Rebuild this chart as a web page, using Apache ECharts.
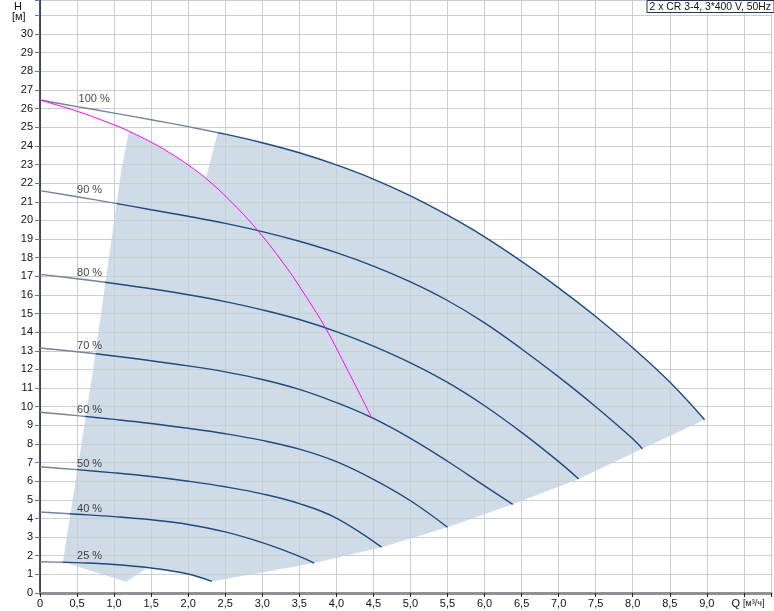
<!DOCTYPE html>
<html><head><meta charset="utf-8">
<script src="https://cdn.jsdelivr.net/npm/echarts@6/dist/echarts.min.js"></script>
<style>html,body{margin:0;padding:0;background:#fff}#c{width:774px;height:611px}</style>
</head><body><div id="c"></div>
<script>
// ---- data ----
const titleText = '2 x CR 3-4, 3*400 V, 50Hz';
const speedLabels = ['100 %', '90 %', '80 %', '70 %', '60 %', '50 %', '40 %', '25 %'];
const labelQ = [0.52, 0.5, 0.5, 0.5, 0.5, 0.5, 0.5, 0.5];
const labelH = [26.5, 21.62, 17.19, 13.27, 9.82, 6.92, 4.5, 1.99];

const c100 = [[0,26.46],[0.5,26.11],[1.0,25.76],[1.5,25.4],[2.0,25.03],[2.5,24.63],[3.0,24.17],[3.5,23.63],[4.0,22.98],[4.5,22.22],[5.0,21.32],[5.5,20.28],[6.0,19.12],[6.5,17.8],[7.0,16.38],[7.5,14.84],[8.0,13.16],[8.5,11.32],[8.97,9.3]];
const c90 = [[0,21.6],[0.5,21.27],[1.0,20.93],[1.5,20.57],[2.0,20.22],[2.5,19.84],[3.0,19.4],[3.5,18.88],[4.0,18.27],[4.5,17.55],[5.0,16.7],[5.5,15.7],[6.0,14.5],[6.5,13.1],[7.0,11.6],[7.5,10.0],[8.0,8.28],[8.13,7.74]];
const c80 = [[0,17.1],[0.5,16.87],[1.0,16.61],[1.5,16.33],[2.0,16.01],[2.5,15.64],[3.0,15.2],[3.5,14.68],[4.0,14.03],[4.5,13.25],[5.0,12.35],[5.5,11.3],[6.0,10.05],[6.5,8.62],[7.0,7.05],[7.27,6.12]];
const c70 = [[0,13.15],[0.5,12.95],[1.0,12.72],[1.5,12.47],[2.0,12.19],[2.5,11.87],[3.0,11.46],[3.5,10.93],[4.0,10.22],[4.5,9.37],[5.0,8.3],[5.5,7.07],[6.0,5.75],[6.38,4.76]];
const c60 = [[0,9.7],[0.5,9.52],[1.0,9.32],[1.5,9.1],[2.0,8.84],[2.5,8.55],[3.0,8.19],[3.5,7.72],[4.0,7.05],[4.5,6.1],[5.0,4.95],[5.5,3.53]];
const c50 = [[0,6.78],[0.5,6.62],[1.0,6.45],[1.5,6.25],[2.0,6.0],[2.5,5.7],[3.0,5.32],[3.5,4.8],[4.0,4.02],[4.61,2.46]];
const c40 = [[0,4.35],[0.5,4.23],[1.0,4.1],[1.5,3.93],[2.0,3.68],[2.5,3.28],[3.0,2.7],[3.5,1.97],[3.7,1.61]];
const c25 = [[0,1.68],[0.31,1.65],[0.5,1.63],[1.0,1.53],[1.5,1.34],[2.0,1.02],[2.32,0.62]];
const speedCurves = [c100, c90, c80, c70, c60, c50, c40, c25];
// where each curve enters the shaded operating range (left part drawn grey)
const enterQ = [2.4, 1.04, 0.88, 0.75, 0.61, 0.5, 0.41, 0.31];

const bestCurve = [[0,26.46],[0.5,25.86],[1.0,25.13],[1.2,24.79],[1.5,24.2],[1.75,23.63],[2.0,22.98],[2.25,22.22],[2.55,21.12],[2.93,19.5],[3.34,17.4],[3.6,15.85],[3.85,14.25],[4.16,11.9],[4.48,9.38]];

// operating range outline
const rangeMinFlow = [[0.309,1.66],[0.716,11.97],[1.098,22.71],[1.2,24.79]];
const rangeWedge = [[1.5,24.2],[1.75,23.63],[2.0,22.98],[2.24,22.27],[2.397,24.68]];
const rangeEnds = [[8.97,9.3],[8.13,7.74],[7.27,6.12],[6.38,4.76],[5.5,3.53],[4.61,2.46],[3.7,1.61],[2.32,0.62]];
const rangeBottom = [[2.0,1.02],[1.5,1.34],[1.45,1.36],[1.16,0.61]];

const qMax = 9.866, hMax = 31.83;

// ---- chart ----
const rangePoly = [].concat(rangeMinFlow, rangeWedge, c100.filter(p => p[0] > 2.4), rangeEnds.slice(1), rangeBottom);
const FONT = "'Liberation Sans', Arial, sans-serif";
const navy = '#1d4a7f', grey = '#74849a', gridColor = '#c9ced5';

const series = [{
  type: 'custom', z: 0, silent: true, data: [0],
  renderItem: (params, api) => ({
    type: 'polygon',
    shape: { points: rangePoly.map(p => api.coord(p)) },
    style: { fill: 'rgba(150,175,205,0.45)', stroke: null }
  })
}];
speedCurves.forEach((c, i) => {
  series.push({
    type: 'line', data: c, showSymbol: false, smooth: 0.4, z: 3, silent: true,
    lineStyle: { width: 1.4, color: navy }
  });
});
series.push({
  type: 'line', data: bestCurve, showSymbol: false, smooth: 0.4, z: 4, silent: true,
  lineStyle: { width: 1, color: '#ff00ff' }
});
series.push({
  type: 'scatter', symbolSize: 0, z: 5, silent: true,
  data: speedLabels.map((t, i) => ({ name: t, value: [labelQ[i], labelH[i]] })),
  label: { show: true, position: 'right', distance: 0, formatter: '{b}', fontSize: 11, fontFamily: FONT, color: '#111' }
});

const chart = echarts.init(document.getElementById('c'), null, { renderer: 'canvas' });
chart.setOption({
  animation: false,
  backgroundColor: '#fff',
  title: {
    text: titleText, right: 0, top: 0, padding: [1, 3, 0, 3],
    borderWidth: 1, borderColor: '#2b3550', backgroundColor: '#fff',
    textStyle: { fontSize: 10.4, fontWeight: 'normal', color: '#111', fontFamily: FONT, lineHeight: 12 }
  },
  grid: { left: 40, right: 0, top: 0, bottom: 18, containLabel: false },
  xAxis: {
    type: 'value', min: 0, max: qMax, interval: 0.5, z: 1,
    axisLine: { lineStyle: { color: '#8e909a', width: 3 } },
    axisTick: { show: true, length: 4, lineStyle: { color: '#222' } },
    axisLabel: {
      fontSize: 11, color: '#111', fontFamily: FONT, margin: 5,
      rich: { u: { fontSize: 9, fontFamily: FONT, color: '#111' }, q: { fontSize: 11, fontFamily: FONT, color: '#111', padding: [0, 0, 0, 8] } },
      formatter: v => {
        if (Math.abs(v - 9.5) < 1e-6) return '{q|Q} {u|[м³/ч]}';
        if (Math.abs(v * 2 - Math.round(v * 2)) > 1e-6 || v > 9.5) return '';
        if (v === 0) return '0';
        return v.toFixed(1).replace('.', ',');
      }
    },
    splitLine: { show: true, lineStyle: { color: gridColor, width: 1 } }
  },
  yAxis: {
    type: 'value', min: 0, max: hMax, interval: 1, z: 1,
    axisLine: { show: true, lineStyle: { color: '#1b1226', width: 1.5 } },
    axisTick: { show: true, length: 5, lineStyle: { color: '#5a7aa8' } },
    axisLabel: {
      fontSize: 11, color: '#111', fontFamily: FONT, margin: 7,
      formatter: v => (Number.isInteger(v) && v <= 30) ? String(v) : ''
    },
    splitLine: { show: true, lineStyle: { color: gridColor, width: 1 } }
  },
  graphic: [
    { type: 'text', left: 14, top: 1, style: { text: 'H', font: '11px ' + FONT, fill: '#111' } },
    { type: 'text', left: 12, top: 11, style: { text: '[м]', font: '11px ' + FONT, fill: '#111' } }
  ],
  series: series
});

// colour each speed curve grey outside the operating range, navy inside it
const W = 774;
const colored = speedCurves.map((c, i) => {
  const px = chart.convertToPixel({ gridIndex: 0 }, [enterQ[i], 0])[0];
  const o = Math.min(Math.max(px / W, 0), 1);
  return {
    lineStyle: {
      color: new echarts.graphic.LinearGradient(0, 0, W, 0, [
        { offset: 0, color: grey }, { offset: o, color: grey },
        { offset: o, color: navy }, { offset: 1, color: navy }
      ], true)
    }
  };
});
chart.setOption({ series: [{}].concat(colored) });
</script></body></html>
